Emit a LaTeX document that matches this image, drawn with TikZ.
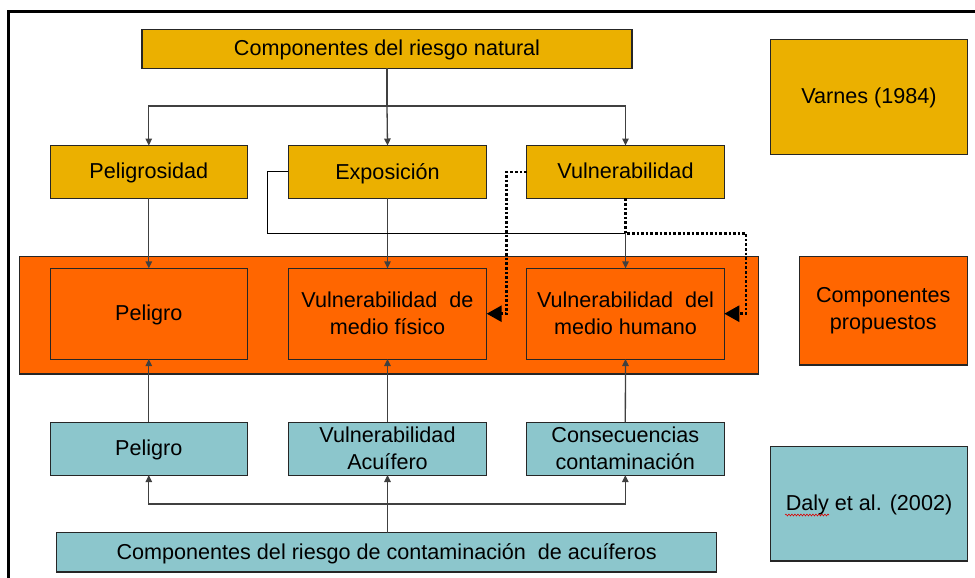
\documentclass[tikz,border=0pt]{standalone}
\usepackage{fontspec}
\setmainfont{Liberation Sans}
\usetikzlibrary{arrows.meta,decorations.pathmorphing}
\definecolor{gold}{RGB}{235,176,0}
\definecolor{orng}{RGB}{255,102,0}
\definecolor{teal2}{RGB}{140,198,204}
\definecolor{conn}{RGB}{64,64,64}
\definecolor{bord}{RGB}{38,38,38}
\begin{document}
\begin{tikzpicture}[x=1pt,y=-1pt,
  box/.style={draw=bord,line width=1.1pt,rectangle,inner sep=0pt,outer sep=0pt,align=center,
    font=\fontsize{21.6}{27}\selectfont,text=black},
  one/.style={text depth=1.5pt},
  goldbox/.style={box,fill=gold},
  orbox/.style={box,fill=orng},
  tlbox/.style={box,fill=teal2},
  line/.style={draw=conn,line width=1.3pt},
  arr/.style={line,-{Triangle[length=7pt,width=6.5pt]}},
  thinln/.style={draw=black,line width=1.1pt},
  dotarr/.style={draw=black,line width=2.6pt,dash pattern=on 2.6pt off 2pt,-{Triangle[length=15pt,width=16pt]}}
]
\useasboundingbox (0,0) rectangle (975,578);
\fill[white] (0,0) rectangle (975,578);
\begin{scope}
\clip (0,0) rectangle (975,578);
\draw[line width=3pt] (8,11.8) rectangle (1000,600);
\end{scope}

% top level
\node[goldbox,one,minimum width=490pt,minimum height=39pt] (top) at (387,48.8) {Componentes del riesgo natural};
\node[goldbox,one,minimum width=197pt,minimum height=52.8pt] (pel) at (148.8,171.9) {Peligrosidad};
\node[goldbox,one,minimum width=198.4pt,minimum height=52.8pt] (expo) at (387.5,171.9) {Exposición};
\node[goldbox,one,minimum width=197.6pt,minimum height=52.8pt] (vul) at (625.5,171.9) {Vulnerabilidad};
\node[goldbox,one,minimum width=196.6pt,minimum height=115pt] (varnes) at (869,96.8) {Varnes (1984)};

% orange band
\node[orbox,minimum width=739pt,minimum height=117.3pt] (band) at (388.8,315.3) {};
\node[orbox,one,minimum width=197pt,minimum height=90.7pt] (opel) at (148.8,313.7) {Peligro};
\node[orbox,minimum width=198.4pt,minimum height=90.7pt] (vmf) at (387.5,313.7) {Vulnerabilidad\ \ de\\medio físico};
\node[orbox,minimum width=197.6pt,minimum height=90.7pt] (vmh) at (625.5,313.7) {Vulnerabilidad\ \ del\\medio humano};
\node[orbox,minimum width=168pt,minimum height=108.3pt] (prop) at (883.3,310.8) {Componentes\\propuestos};

% teal row
\node[tlbox,one,minimum width=197pt,minimum height=52.7pt] (tpel) at (148.8,448.7) {Peligro};
\node[tlbox,minimum width=198.4pt,minimum height=52.7pt] (vacu) at (387.5,448.7) {Vulnerabilidad\\Acuífero};
\node[tlbox,minimum width=198pt,minimum height=52.7pt] (cons) at (625.3,448.7) {Consecuencias\\contaminación};
\node[tlbox,one,minimum width=660pt,minimum height=39.3pt] (bot) at (386.7,552.3) {Componentes del riesgo de contaminación\ \ de acuíferos};
\node[tlbox,one,minimum width=196.6pt,minimum height=114.3pt] (daly) at (869,503.8) {Daly et al. (2002)};
\coordinate (w1) at (785,515);
\coordinate (w2) at (829,515);
\draw[red!85!black,line width=0.6pt,decorate,decoration={snake,amplitude=0.9pt,segment length=3pt}] (w1) -- (w2);

% top connectors
\coordinate (jt) at (387,106);
\draw[line] (top.south) -- (jt);
\draw[arr] (jt) -| (pel.north);
\draw[arr] (jt) -| (vul.north);
\draw[arr] (jt) -- (expo.north);
\draw[arr] (pel.south) -- (opel.north);
\draw[arr] (expo.south) -- (vmf.north);

% exposicion loop
\coordinate (ex1) at (267.3,233.3);
\coordinate (ex2) at (625.5,233.3);
\draw[thinln] (expo.west) -| (ex1) -- (ex2);
\draw[arr] (ex2) -- (vmh.north);

% dotted connectors
\coordinate (d1) at (506.7,313.7);
\coordinate (d2) at (746,233.3);
\coordinate (d3) at (746,313.7);
\draw[dotarr] (vul.west) -| (d1) -- (vmf.east);
\draw[dotarr] (vul.south) -- (ex2) -- (d2) -- (d3) -- (vmh.east);

% bottom connectors
\coordinate (jb) at (387,504);
\draw[arr] (bot.north -| vacu.south) -- (vacu.south);
\draw[arr] (jb) -| (tpel.south);
\draw[arr] (jb) -| (cons.south);
\draw[arr] (tpel.north) -- (opel.south);
\draw[arr] (vacu.north) -- (vmf.south);
\draw[arr] (cons.north) -- (vmh.south);
\end{tikzpicture}
\end{document}
